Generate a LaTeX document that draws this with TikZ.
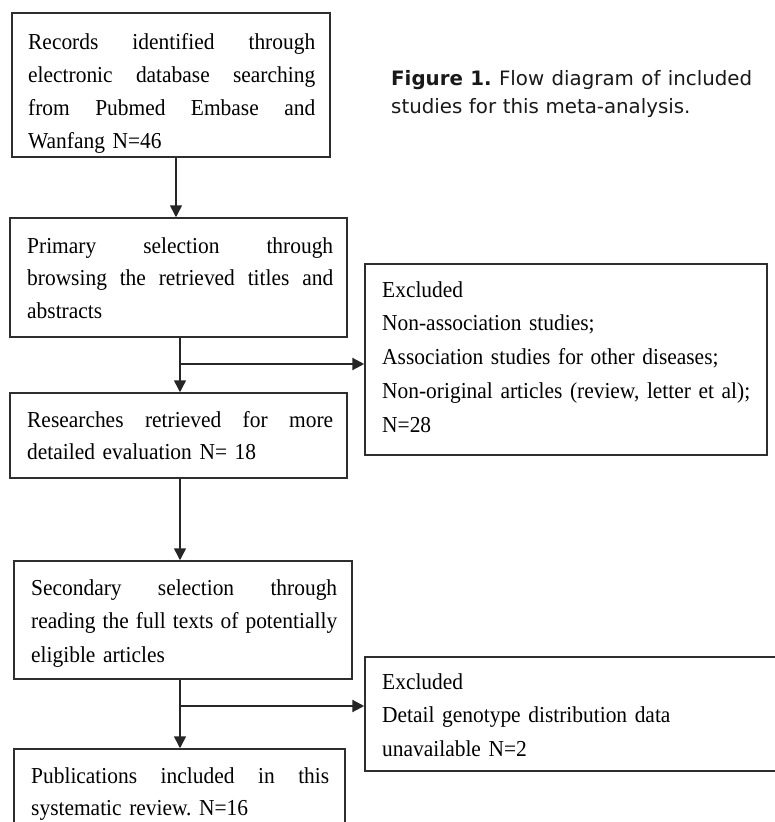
\documentclass[tikz,border=0pt]{standalone}
\usepackage{fontspec}
\setmainfont{Liberation Serif}[FakeStretch=0.94]
\newfontfamily\capfont{DejaVu Sans}
\usetikzlibrary{arrows.meta}
\frenchspacing
\newcommand\jline[1]{\leavevmode\hbox to\hsize{\spaceskip=0.25em plus 1fil\xspaceskip=0.3em plus 1fil\relax #1}}
\begin{document}
\begin{tikzpicture}[x=1pt,y=-1pt,
  frame/.style={draw=black!82, line width=1.5pt, inner sep=0pt},
  txt/.style={anchor=base west, inner sep=0pt, align=left, text=black,
              font=\fontsize{22.8}{#1}\selectfont},
  txt/.default=33,
  arr/.style={draw=black!85, line width=1.6pt, -{Triangle[length=12pt,width=12pt]}},
  branch/.style={draw=black!85, line width=2.2pt, -{Triangle[length=12pt,width=12pt]}}]
\fill[white] (0,0) rectangle (774,822);
\useasboundingbox (0,0) rectangle (774,822);

% frames
\node[frame, minimum width=318pt, minimum height=144pt] (b1) at (171,85) {};
\node[frame, minimum width=337pt, minimum height=119pt] (b2) at (178.5,277.5) {};
\node[frame, minimum width=337pt, minimum height=85pt] (b3) at (178.5,435.5) {};
\node[frame, minimum width=338pt, minimum height=118pt] (b4) at (183,620) {};
\node[frame, minimum width=331pt, minimum height=101pt] (b5) at (179.5,799.5) {};
\node[frame, minimum width=402pt, minimum height=191pt] (e1) at (566,359.5) {};
\node[frame, minimum width=435pt, minimum height=114pt] (e2) at (582.5,714) {};

% texts
\node[txt=33] (t1) at (28,49) [text width=287pt]
  {\jline{Records identified through}\\
   \jline{electronic database searching}\\
   \jline{from Pubmed Embase and}\\
   Wanfang N=46};
\node[txt=32.5] (t2) at (27,253) [text width=306pt]
  {\jline{Primary selection through}\\
   \jline{browsing the retrieved titles and}\\
   abstracts};
\node[txt=32] (t3) at (27,427) [text width=306pt]
  {\jline{Researches retrieved for more}\\
   detailed evaluation N= 18};
\node[txt=33.5] (t4) at (31,595) [text width=306pt]
  {\jline{Secondary selection through}\\
   \jline{reading the full texts of potentially}\\
   eligible articles};
\node[txt=32] (t5) at (31,783) [text width=298pt]
  {\jline{Publications included in this}\\
   systematic review. N=16};
\node[txt=33.8] (te1) at (382,297) [text width=380pt]
  {Excluded\\
   Non-association studies;\\
   Association studies for other diseases;\\
   Non-original articles (review, letter et al);\\
   N=28};
\node[txt=33.5] (te2) at (382,689) [text width=380pt]
  {Excluded\\
   Detail genotype distribution data\\
   unavailable N=2};

% caption
\node[anchor=base west, inner sep=0pt, align=left, text width=361pt, text=black!90,
      font=\capfont\fontsize{19.8}{28}\selectfont] (cap) at (391,85)
  {\jline{\textbf{Figure 1.} Flow diagram of included}\\
   studies for this meta-analysis.};

% connectors
\coordinate (x1) at (176,0);
\coordinate (x2) at (180,0);
\coordinate (j1) at (180,364);
\coordinate (j2) at (180,706);
\draw[arr] (b1.south -| x1) -- (b2.north -| x1);
\draw[arr] (b2.south -| x2) -- (b3.north -| x2);
\draw[branch] (j1) -- (e1.west |- j1);
\draw[arr] (b3.south -| x2) -- (b4.north -| x2);
\draw[arr] (b4.south -| x2) -- (b5.north -| x2);
\draw[branch] (j2) -- (e2.west |- j2);
\end{tikzpicture}
\end{document}
